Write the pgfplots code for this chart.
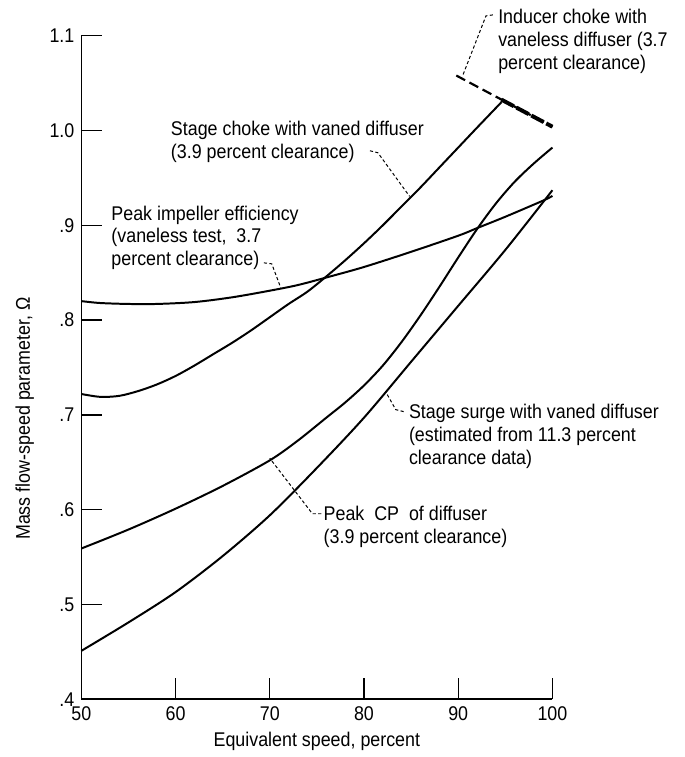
\documentclass[border=0pt]{standalone}
\usepackage{pgfplots}
\pgfplotsset{compat=1.18}
\usepackage{fontspec}
\setmainfont[FakeStretch=0.9]{Liberation Sans}
\begin{document}
\begin{tikzpicture}
\begin{axis}[
  at={(0,0)}, anchor=south west,
  scale only axis, width=237.5pt, height=334.5pt,
  xmin=50, xmax=100, ymin=0.4, ymax=1.1,
  axis x line*=bottom, axis y line*=left,
  axis line style={line width=0.8pt, -},
  xtick={50,60,70,80,90,100},
  xticklabels={50,60,70,80,90,100},
  ytick={0.4,0.5,0.6,0.7,0.8,0.9,1.0,1.1},
  yticklabels={.4,.5,.6,.7,.8,.9,1.0,1.1},
  tick align=inside, major tick length=10.5pt,
  tick style={line width=0.7pt, black},
  ticklabel style={font=\fontsize{10}{12}\selectfont},
  /pgf/number format/assume math mode=true,
  xlabel={Equivalent speed, percent},
  xlabel style={font=\fontsize{10}{12}\selectfont, yshift=1pt},
  clip=false,
]
% Peak impeller efficiency
\addplot[black, line width=1pt, smooth] coordinates {
(50,0.820) (52,0.818) (55,0.817) (58,0.817) (62,0.819) (66,0.824) (70,0.831)
(73,0.837) (76.4,0.846) (80,0.856) (85,0.872) (90,0.889) (92,0.897) (95,0.909)
(99,0.926) (100,0.931)};
% Stage choke with vaned diffuser
\addplot[black, line width=1pt, smooth] coordinates {
(50,0.722) (52,0.719) (54,0.720) (56,0.725) (58,0.732) (60,0.741) (62,0.752)
(64,0.764) (66,0.776) (68,0.789) (70,0.803) (72,0.817) (74,0.830) (76,0.846)
(78,0.863) (80,0.881) (82,0.900) (84,0.920) (86,0.940) (88,0.961) (90,0.982)
(92,1.003) (94.6,1.030)};
% Peak CP of diffuser
\addplot[black, line width=1pt, smooth] coordinates {
(50,0.559) (55,0.579) (60,0.601) (65,0.625) (70,0.652) (73,0.673) (76,0.697)
(78,0.713) (80,0.731) (82,0.752) (84,0.777) (86,0.805) (88,0.835) (90,0.866)
(92,0.896) (94,0.923) (96,0.946) (98,0.965) (100,0.982)};
% Stage surge with vaned diffuser
\addplot[black, line width=1pt, smooth] coordinates {
(50,0.451) (55,0.481) (60,0.513) (65,0.551) (70,0.594) (75,0.644) (80,0.697)
(85,0.756) (90,0.815) (95,0.874) (100,0.937)};
% Inducer choke with vaneless diffuser
\addplot[black, line width=1.1pt, dash pattern=on 5pt off 2.5pt] coordinates {
(89.8,1.058) (100,1.004)};
\addplot[black, line width=2pt, dash pattern=on 7pt off 1.5pt] coordinates {
(94.6,1.0325) (100,1.004)};
\end{axis}
\begin{scope}[x=0.5pt, y=-0.5pt, shift={(-41pt,352.5pt)},
  lab/.style={anchor=north west, inner sep=0pt, align=left,
    font=\fontsize{10}{11.5}\selectfont},
  lead/.style={black, line width=0.5pt, dash pattern=on 1.6pt off 1.2pt}]
\useasboundingbox (0,0) rectangle (690,757);
% y label
\node[rotate=90, font=\fontsize{10}{12}\selectfont] at (25,422)
  {Mass flow-speed parameter, Ω};
% Inducer choke
\node[lab] at (502,9) {Inducer choke with\\vaneless diffuser (3.7\\percent clearance)};
\draw[lead] (497,15) -- (490,16) -- (467,75);
% Stage choke
\node[lab] at (172,122) {Stage choke with vaned diffuser\\(3.9 percent clearance)};
\draw[lead] (373,152) -- (381,154) -- (413,198);
% Peak impeller
\node[lab] at (112,207) {Peak impeller efficiency\\(vaneless test,\ \ 3.7\\percent clearance)};
\draw[lead] (266,265) -- (274,266) -- (283,290);
% Stage surge
\node[lab] at (412,407) {Stage surge with vaned diffuser\\(estimated from 11.3 percent\\clearance data)};
\draw[lead] (407,415) -- (399,413) -- (390,397);
% Peak CP
\node[lab] at (326,510) {Peak\ \ CP\ \ of diffuser\\(3.9 percent clearance)};
\draw[lead] (324,518) -- (315,518) -- (272,462);
\end{scope}
\end{tikzpicture}
\end{document}
